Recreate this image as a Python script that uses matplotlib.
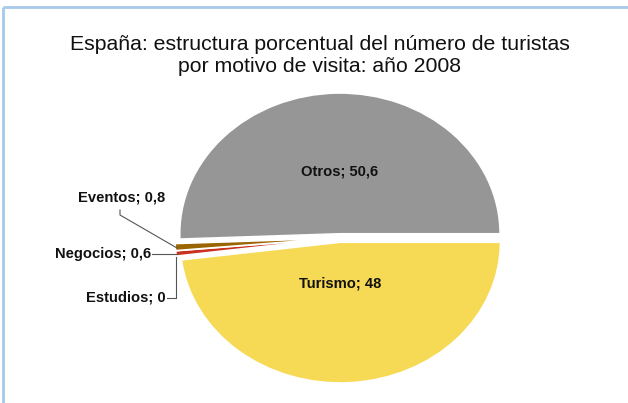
import matplotlib
matplotlib.use("Agg")
import matplotlib.pyplot as plt
import numpy as np

# Data
categories = ["Turismo", "Estudios", "Negocios", "Eventos", "Otros"]
values = [48, 0, 0.6, 0.8, 50.6]
value_labels = ["48", "0", "0,6", "0,8", "50,6"]
colors = ["#F6DA55", "#E08A1E", "#C8321E", "#9A6400", "#969696"]
title = "España: estructura porcentual del número de turistas\npor motivo de visita: año 2008"

W, H = 628, 403
fig = plt.figure(figsize=(W / 100, H / 100), dpi=100)
fig.patch.set_facecolor("white")

# pie axes (elliptical pie: aspect auto)
px0, px1, py0, py1 = 175, 505, 93, 383
axp = fig.add_axes([px0 / W, 1 - py1 / H, (px1 - px0) / W, (py1 - py0) / H])
explode = [0.03, 0.03, 0.03, 0.03, 0.03]
wedges, _ = axp.pie(values, colors=colors, startangle=0, counterclock=False,
                    explode=explode, radius=1.0,
                    wedgeprops=dict(edgecolor="white", linewidth=1.2))
for w in wedges:
    w.set_clip_on(False)
axp.set_aspect("auto")
axp.set_xlim(-1.03, 1.03)
axp.set_ylim(-1.03, 1.03)
axp.axis("off")

# overlay axes in pixel coordinates
ax = fig.add_axes([0, 0, 1, 1], zorder=5)
ax.set_xlim(0, W)
ax.set_ylim(H, 0)
ax.axis("off")
ax.patch.set_alpha(0)

# frame lines (light blue)
ax.plot([3, W], [7, 7], color="#A8C8EA", lw=2, solid_capstyle="butt")
ax.plot([3, 3], [7, H], color="#A8C8EA", lw=2, solid_capstyle="butt")

ax.text(320, 56, title, ha="center", va="center", fontsize=15.3,
        family="Liberation Sans", color="#111111", linespacing=1.2)

lab = dict(fontsize=10.6, family="Liberation Sans", fontweight="bold", color="#111111")
ax.text(340, 172, f"{categories[4]}; {value_labels[4]}", ha="center", va="center", **lab)
ax.text(340, 283, f"{categories[0]}; {value_labels[0]}", ha="center", va="center", **lab)

ax.text(165, 197, f"{categories[3]}; {value_labels[3]}", ha="right", va="center", **lab)
ax.text(151, 254, f"{categories[2]}; {value_labels[2]}", ha="right", va="center", **lab)
ax.text(166, 298, f"{categories[1]}; {value_labels[1]}", ha="right", va="center", **lab)

lc = "#555555"
ax.plot([120, 120, 177], [210, 215, 248], color=lc, lw=0.8)
ax.plot([152, 177], [254, 254], color=lc, lw=0.8)
ax.plot([167, 176, 176], [298, 298, 257], color=lc, lw=0.8)

fig.savefig("out.png", dpi=100)
